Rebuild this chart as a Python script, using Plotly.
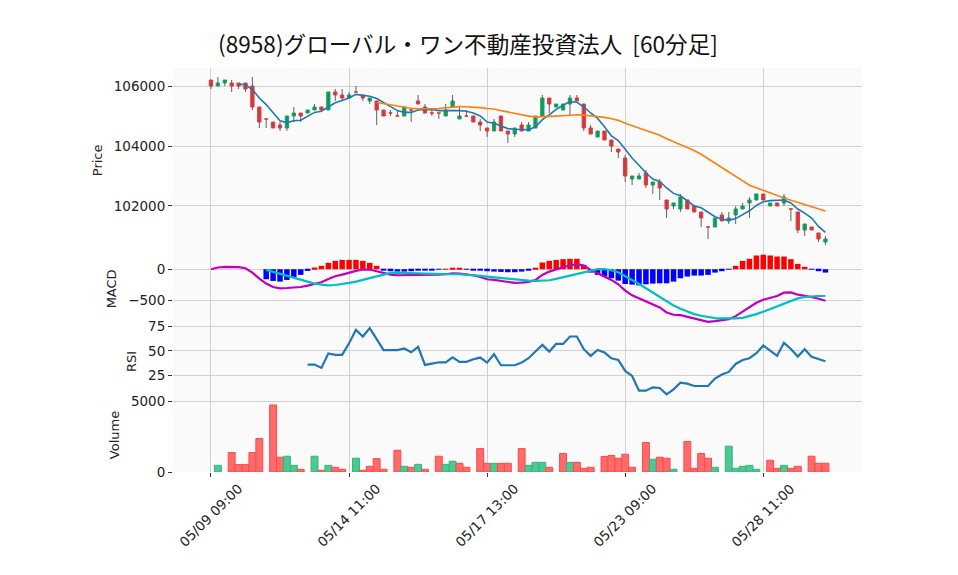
import plotly.graph_objects as go
from plotly.subplots import make_subplots

title_text = "(8958)グローバル・ワン不動産投資法人  [60分足]"
x_tick_pos = [0, 20, 40, 60, 80]
x_tick_labels = ["05/09 09:00", "05/14 11:00", "05/17 13:00", "05/23 09:00", "05/28 11:00"]

opens = [106200, 106000, 106100, 106100, 106100, 106100, 106000, 105300, 104900, 104800,
         104700, 104600, 105000, 105100, 105100, 105200, 105300, 105200, 105800, 105700,
         105600, 105800, 105700, 105500, 105500, 105200, 105100, 105000, 105000, 105200,
         105500, 105300, 105100, 105100, 105000, 105300, 104900, 105000, 105000, 104800,
         104600, 104500, 105000, 104500, 104400, 104700, 104500, 104600, 105000, 105600,
         105300, 105200, 105400, 105600, 105400, 104600, 104300, 104500, 104200, 103900,
         103600, 102900, 102900, 103100, 102700, 102800, 102200, 102000, 101900, 102200,
         102000, 101800, 101300, 101300, 101700, 101500, 101700, 101900, 102100, 102200,
         102400, 102000, 102100, 102100, 101900, 101800, 101200, 101300, 101100, 100800]
highs = [106200, 106300, 106200, 106200, 106100, 106100, 106300, 105300, 104900, 104800,
         104800, 105000, 105300, 105100, 105200, 105400, 105300, 105800, 105900, 105900,
         105800, 106000, 105700, 105600, 105500, 105200, 105200, 105200, 105300, 105200,
         105700, 105400, 105200, 105100, 105400, 105700, 105300, 105200, 105000, 104900,
         104600, 104900, 105000, 104500, 104600, 104800, 104800, 105000, 105700, 105600,
         105400, 105400, 105700, 105700, 105400, 104700, 104500, 104500, 104200, 103900,
         103700, 103000, 103100, 103200, 102800, 102900, 102200, 102100, 102400, 102200,
         102000, 101800, 101300, 101600, 101800, 101800, 102000, 102100, 102300, 102400,
         102400, 102100, 102100, 102400, 101900, 101800, 101400, 101300, 101100, 101000]
lows = [105900, 106000, 106000, 105800, 105900, 105800, 105200, 104600, 104600, 104600,
        104500, 104500, 104800, 104800, 105100, 105200, 105200, 105200, 105500, 105500,
        105600, 105800, 105500, 105400, 104700, 105000, 105000, 105000, 105000, 104800,
        105400, 105100, 105000, 104900, 105000, 105300, 104900, 105000, 104800, 104500,
        104300, 104500, 104500, 104100, 104300, 104500, 104500, 104600, 105000, 105100,
        105300, 105200, 105000, 105500, 104500, 104400, 104300, 104200, 103800, 103600,
        102800, 102700, 102900, 102600, 102400, 102200, 101600, 101900, 101800, 101900,
        101800, 101300, 100900, 101300, 101500, 101400, 101400, 101900, 101600, 102200,
        102200, 102000, 102000, 102000, 101500, 101100, 101000, 101200, 100800, 100700]
closes = [106000, 106100, 106200, 106000, 106000, 105900, 105300, 104800, 104900, 104600,
          104600, 105000, 105100, 105000, 105200, 105300, 105200, 105800, 105700, 105600,
          105700, 105800, 105600, 105600, 105200, 105000, 105100, 105000, 105300, 105200,
          105400, 105100, 105100, 105100, 105200, 105500, 105000, 105000, 104800, 104700,
          104500, 104800, 104500, 104400, 104600, 104500, 104700, 105000, 105600, 105400,
          105400, 105400, 105600, 105500, 104600, 104400, 104500, 104200, 104000, 103800,
          103000, 103000, 103000, 102700, 102800, 102600, 101900, 102100, 102300, 101900,
          101800, 101600, 101300, 101600, 101500, 101600, 101900, 102000, 102200, 102400,
          102200, 102100, 102000, 102300, 101900, 101200, 101400, 101200, 100900, 100900]

ma5 = [None] * 4 + [
    106060, 106040, 105880, 105600, 105380, 105100, 104840, 104780, 104840, 104860,
    104980, 105120, 105160, 105300, 105440, 105520, 105600, 105720, 105680, 105660,
    105580, 105440, 105300, 105180, 105120, 105120, 105200, 105200, 105220, 105180,
    105180, 105200, 105180, 105160, 105100, 105000, 104800, 104760, 104660, 104580,
    104560, 104560, 104540, 104640, 104880, 105040, 105220, 105360, 105480, 105460,
    105300, 105100, 104920, 104640, 104340, 104180, 103900, 103600, 103360, 103100,
    102900, 102820, 102600, 102420, 102340, 102160, 102000, 101940, 101780, 101640,
    101560, 101520, 101580, 101720, 101840, 102020, 102140, 102180, 102180, 102200,
    102100, 101900, 101760, 101600, 101320, 101120]
ma25 = [None] * 24 + [
    105448, 105408, 105368, 105320, 105292, 105260, 105240, 105232, 105244, 105252,
    105276, 105312, 105312, 105308, 105300, 105280, 105248, 105232, 105180, 105128,
    105088, 105040, 104996, 104972, 104972, 104980, 104996, 105008, 105032, 105040,
    105030, 105010, 104990, 104955, 104910, 104855, 104755, 104675, 104595, 104510,
    104435, 104360, 104245, 104150, 104065, 103955, 103850, 103725, 103575, 103415,
    103260, 103110, 102970, 102825, 102690, 102605, 102515, 102420, 102330, 102265,
    102190, 102115, 102050, 101980, 101910, 101835]

macd = [0, 27, 38, 38, 32, 16, -54, -151, -231, -285,
        -306, -301, -296, -285, -263, -237, -210, -156, -113, -86,
        -54, -27, -5, -5, -32, -65, -86, -97, -97, -97,
        -91, -86, -86, -86, -81, -65, -70, -81, -97, -124,
        -161, -172, -188, -210, -220, -215, -204, -172, -91, -38,
        0, 32, 59, 81, 59, -11, -65, -118, -172, -242,
        -344, -419, -468, -527, -564, -613, -694, -731, -737, -763,
        -790, -817, -844, -833, -823, -801, -753, -683, -613, -538,
        -489, -457, -430, -376, -371, -409, -425, -446, -473, -505]
signal = [None] * 8 + [
    -11, -43, -75, -108, -140, -172, -204, -231, -247, -258,
    -253, -242, -220, -199, -172, -145, -113, -81, -59, -54,
    -54, -59, -65, -70, -75, -81, -81, -81, -81, -86,
    -97, -108, -118, -129, -145, -156, -167, -177, -183, -188,
    -188, -177, -156, -129, -102, -70, -43, -16, 0, 0,
    -16, -48, -108, -172, -237, -306, -376, -441, -516, -581,
    -634, -683, -720, -747, -769, -785, -790, -796, -790, -780,
    -753, -720, -683, -640, -591, -543, -500, -468, -446, -435,
    -430, -430]
hist = [None] * 8 + [
    -161, -188, -199, -172, -129, -91, -27, 27, 54, 102,
    134, 150, 150, 150, 134, 102, 54, -16, -32, -38,
    -38, -32, -22, -16, -8, -5, 5, 16, 10, -5,
    -8, -16, -32, -38, -43, -48, -48, -38, -11, 16,
    108, 134, 150, 161, 167, 167, 70, -54, -91, -118,
    -145, -183, -237, -247, -258, -242, -231, -226, -226, -199,
    -145, -118, -102, -102, -91, -54, -32, -5, 54, 134,
    167, 220, 231, 220, 204, 204, 161, 86, 38, -5,
    -32, -54]
rsi = [None] * 14 + [
    36.1, 36.1, 32.7, 47.3, 45.9, 45.9, 57.8, 71.4, 64.6, 73.1,
    61.9, 50.7, 50.7, 50.7, 52.4, 48.6, 54.1, 35.7, 37.1, 38.4,
    38.4, 43.5, 38.8, 38.8, 41.5, 43.2, 38.1, 46.6, 35.4, 35.4,
    35.4, 38.1, 42.5, 49.3, 56.1, 49.3, 57.1, 57.1, 64.6, 64.6,
    51.7, 44.9, 51.0, 48.3, 42.5, 40.8, 29.6, 24.5, 9.5, 9.5,
    12.9, 12.3, 5.8, 10.9, 17.7, 16.7, 14.3, 14.3, 14.3, 21.8,
    25.9, 28.6, 36.7, 40.8, 42.5, 47.6, 55.4, 50.3, 44.9, 58.2,
    52.0, 44.2, 51.7, 43.9, 41.5, 39.5]
volume = [None, 470, None, 1370, 520, 520, 1370, 2360, None, 4720,
          1040, 1110, 470, 190, None, 1110, 120, 470, 330, 190,
          None, 970, 120, 400, 940, 190, None, 1530, 400, 330,
          540, 190, None, 1110, 540, 760, 610, 330, None, 1650,
          610, 610, 610, 610, None, 1650, 470, 680, 680, 330,
          None, 1300, 680, 680, 260, 330, None, 1090, 1160, 970,
          1250, 330, None, 2080, 900, 1040, 970, 190, None, 2150,
          260, 1300, 970, 330, None, 1820, 260, 400, 470, 190,
          None, 830, 260, 470, 260, 400, None, 1110, 610, 610]

n = len(closes)
idx = list(range(n))

UP = "#00b060"
DOWN = "#fe3032"
WICK = "#606060"
GRID = "#d0d0d0"
FONT = "DejaVu Sans"

fig = make_subplots(rows=4, cols=1, shared_xaxes=True, vertical_spacing=0)

# wicks
wx, wy = [], []
for i in idx:
    wx += [i, i, None]
    wy += [lows[i], highs[i], None]
fig.add_trace(go.Scatter(x=wx, y=wy, mode="lines", line=dict(color=WICK, width=1),
                         hoverinfo="skip"), row=1, col=1)

# bodies
for sel, col in (([i for i in idx if closes[i] > opens[i]], UP),
                 ([i for i in idx if closes[i] <= opens[i]], DOWN)):
    fig.add_trace(go.Candlestick(
        x=sel,
        open=[opens[i] for i in sel], close=[closes[i] for i in sel],
        high=[max(opens[i], closes[i]) for i in sel],
        low=[min(opens[i], closes[i]) for i in sel],
        increasing=dict(line=dict(color=col, width=1), fillcolor=col),
        decreasing=dict(line=dict(color=col, width=1), fillcolor=col),
        whiskerwidth=0), row=1, col=1)

fig.add_trace(go.Scatter(x=idx, y=ma5, mode="lines", line=dict(color="#1f77b4", width=1.6)), row=1, col=1)
fig.add_trace(go.Scatter(x=idx, y=ma25, mode="lines", line=dict(color="#ff7f0e", width=1.6)), row=1, col=1)

# MACD
hist_colors = ["#ff0000" if (h is not None and h >= 0) else "#0000ff" for h in hist]
fig.add_trace(go.Bar(x=idx, y=hist, width=0.8, marker=dict(color=hist_colors, line=dict(width=0))), row=2, col=1)
fig.add_trace(go.Scatter(x=idx, y=macd, mode="lines", line=dict(color="#bf00bf", width=2.2)), row=2, col=1)
fig.add_trace(go.Scatter(x=idx, y=signal, mode="lines", line=dict(color="#00bfbf", width=2.2)), row=2, col=1)

# RSI
fig.add_trace(go.Scatter(x=idx, y=rsi, mode="lines", line=dict(color="#1f77b4", width=2.2)), row=3, col=1)

# Volume
vol_up = [i > 0 and closes[i] > closes[i - 1] for i in idx]
vol_fill = ["#4cc891" if u else "#ff6b6b" for u in vol_up]
vol_line = ["#35b57c" if u else "#fe4a4a" for u in vol_up]
fig.add_trace(go.Bar(x=idx, y=volume, width=1.0,
                     marker=dict(color=vol_fill, line=dict(color=vol_line, width=1))), row=4, col=1)

# page body adds an 8px offset; the figure coordinates below compensate for it
OFF = 8
h_top, h_bot = 68 - OFF, 472 - OFF
H = h_bot - h_top
def dom(y0, y1):
    y0 -= OFF
    y1 -= OFF
    return [max(0.0, (h_bot - y1) / H), min(1.0, (h_bot - y0) / H)]

axis_font = dict(family=FONT, size=13.5, color="#222222")
common_y = dict(showgrid=True, gridcolor=GRID, gridwidth=1, zeroline=False,
                ticks="outside", ticklen=4, tickcolor="#333333", tickfont=axis_font,
                showline=False, title_font=dict(family=FONT, size=13, color="#222222"),
                title_standoff=8)

fig.update_layout(
    width=958, height=575,
    margin=dict(l=173 - OFF, r=958 - (862 - OFF), t=h_top, b=575 - h_bot),
    paper_bgcolor="white", plot_bgcolor="#fafafa",
    showlegend=False, barmode="overlay", boxgap=0.32,
    title=dict(text=title_text, x=(468 - OFF) / 958, xanchor="center",
               y=1 - (45 - OFF) / 575, yanchor="middle",
               font=dict(family="Noto Sans CJK JP", size=22.6, color="#111111")),
)
fig.update_layout(
    yaxis=dict(domain=dom(68, 252.7), range=[100443, 106600], tickvals=[102000, 104000, 106000],
               tickformat="d", title_text="Price", **common_y),
    yaxis2=dict(domain=dom(252.7, 325), range=[-895, 265], tickvals=[-500, 0],
                title_text="MACD", **common_y),
    yaxis3=dict(domain=dom(325, 398), range=[2.1, 76.3], tickvals=[25, 50, 75],
                title_text="RSI", **common_y),
    yaxis4=dict(domain=dom(398, 472), range=[0, 5212], tickvals=[0, 5000],
                title_text="Volume", **common_y),
)
for k in range(1, 5):
    fig.update_layout(**{f"xaxis{'' if k == 1 else k}": dict(
        range=[-5.5, 94.3], tickvals=x_tick_pos,
        showgrid=True, gridcolor=GRID, gridwidth=1, zeroline=False,
        rangeslider=dict(visible=False),
        showticklabels=False, ticks="outside" if k == 4 else "",
        ticklen=4, tickcolor="#333333")})

# rotated date labels, centred under their ticks
for pos, lab in zip(x_tick_pos, x_tick_labels):
    fig.add_annotation(x=pos, y=0, xref="x4", yref="paper", text=lab, showarrow=False,
                       textangle=-45, xanchor="center", yanchor="top", yshift=-6,
                       font=axis_font)

fig.write_html("out.html")
